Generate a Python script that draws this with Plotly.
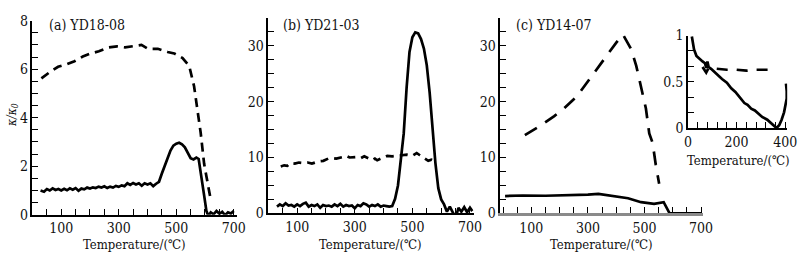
import plotly.graph_objects as go

W, H = 809, 266
FONT = "DejaVu Serif Condensed, DejaVu Serif"

# ---------------- data ----------------
# (a) YD18-08
a_solid_t = [28, 40, 50, 60, 70, 80, 90, 100, 110, 120, 130, 140, 150, 160, 170, 180, 190, 200,
             210, 220, 230, 240, 250, 260, 270, 280, 290, 300, 310, 320, 330, 340, 350, 360, 370,
             380, 390, 400, 410, 420, 430, 440, 450, 460, 470, 480, 490, 500, 510, 520, 530, 540,
             550, 560, 570, 578, 585, 597, 605, 612, 620, 630, 640, 650, 660, 670, 680, 690, 700]
a_solid_k = [1.0, 0.95, 1.06, 1.0, 1.09, 1.02, 1.06, 1.0, 1.07, 1.01, 1.09, 1.03, 1.1, 0.99, 1.08,
             1.05, 1.12, 1.08, 1.13, 1.1, 1.16, 1.12, 1.17, 1.1, 1.16, 1.12, 1.19, 1.15, 1.21, 1.18,
             1.3, 1.23, 1.31, 1.25, 1.3, 1.2, 1.3, 1.25, 1.3, 1.18, 1.28, 1.36, 1.7, 2.0, 2.35, 2.65,
             2.85, 2.93, 2.97, 2.9, 2.78, 2.55, 2.33, 2.28, 2.36, 2.3, 1.8, 0.8, 0.15, -0.05, 0.1,
             0.02, 0.16, 0.04, 0.12, -0.02, 0.1, 0.05, 0.16]
a_dash_t = [31, 60, 89, 118, 146, 175, 203, 231, 265, 294, 322, 351, 379, 402, 436, 470, 493, 522,
            545, 562, 574, 585, 597, 608, 619]
a_dash_k = [5.62, 5.88, 6.1, 6.2, 6.33, 6.52, 6.65, 6.74, 6.9, 6.94, 6.9, 6.94, 7.0, 6.84, 6.84,
            6.71, 6.65, 6.46, 6.14, 5.3, 4.4, 3.38, 2.1, 1.32, 0.68]

# (b) YD21-03
b_solid_t = [30, 40, 50, 60, 70, 80, 90, 100, 110, 120, 130, 140, 150, 160, 170, 180, 190, 200,
             210, 220, 230, 240, 250, 260, 270, 280, 290, 300, 310, 320, 330, 340, 350, 360, 370,
             380, 390, 400, 410, 420, 430, 440, 450, 460, 470, 480, 490, 500, 510, 520, 530, 540,
             550, 560, 570, 580, 590, 600, 610, 620, 630, 640, 650, 660, 670, 680, 690, 700, 708]
b_solid_k = [1.2, 1.6, 1.3, 1.8, 1.4, 1.5, 1.2, 1.6, 1.3, 1.7, 1.9, 1.2, 1.5, 1.3, 1.6, 1.0, 1.5,
             1.3, 1.4, 1.2, 1.6, 1.3, 1.7, 1.2, 1.5, 1.3, 1.4, 0.9, 1.5, 1.3, 1.8, 1.6, 1.2, 1.5,
             1.3, 1.6, 1.2, 1.4, 1.3, 1.2, 1.3, 2.6, 5.0, 9.5, 14.3, 22.5, 28.9, 31.5, 32.4, 32.2,
             31.2, 29.5, 26.5, 21.6, 15.0, 9.0, 4.5, 2.5, 1.6, 0.3, 1.2, 0.2, -0.8, 1.0, 0.3, 1.1,
             0.2, 1.0, 0.4]
b_dash_t = [43, 55, 66, 77, 92, 106, 122, 137, 151, 174, 191, 208, 222, 236, 259, 270, 282, 310,
            322, 333, 361, 370, 378, 413, 430, 447, 481, 500, 515, 526, 555, 566, 577]
b_dash_k = [8.4, 8.6, 8.5, 9.0, 8.9, 9.1, 9.0, 9.1, 8.9, 9.3, 9.4, 9.8, 9.9, 9.8, 10.1, 10.3, 10.0,
            10.1, 9.9, 10.2, 9.5, 9.8, 9.5, 10.3, 10.2, 10.3, 10.5, 10.3, 10.8, 10.4, 9.4, 9.6, 9.3]

# (c) YD14-07
c_solid_t = [7, 70, 150, 243, 300, 337, 394, 442, 488, 534, 568, 579, 589, 620, 660, 700]
c_solid_k = [3.1, 3.2, 3.15, 3.2, 3.35, 3.47, 3.1, 2.7, 2.0, 1.7, 2.0, 1.0, 0.0, 0.0, 0.05, 0.0]
c_dash_t = [77, 123, 181, 216, 262, 291, 331, 366, 401, 424, 453, 471, 488, 505, 517, 529, 540, 552]
c_dash_k = [14.0, 15.4, 17.4, 18.8, 21.0, 23.0, 25.8, 28.3, 30.6, 32.0, 29.4, 26.4, 22.7, 18.8,
            14.3, 12.6, 8.7, 5.3]

# (c) inset
i_solid_t = [16, 20, 25, 35, 50, 60, 70, 75, 80, 85, 95, 110, 125, 140, 160, 178, 195, 215, 232,
             245, 260, 275, 290, 305, 326, 345, 355, 364, 375, 385, 395, 402, 406, 406, 403]
i_solid_k = [0.99, 0.92, 0.85, 0.78, 0.74, 0.72, 0.70, 0.65, 0.72, 0.66, 0.64, 0.60, 0.57, 0.53,
             0.49, 0.43, 0.39, 0.33, 0.27, 0.25, 0.21, 0.19, 0.15, 0.12, 0.09, 0.05, 0.02, 0.0,
             0.03, 0.09, 0.17, 0.25, 0.32, 0.40, 0.48]
i_dash_t = [60, 75, 85, 120, 160, 200, 240, 280, 320, 355, 360]
i_dash_k = [0.66, 0.60, 0.65, 0.64, 0.63, 0.63, 0.62, 0.63, 0.63, 0.63, 0.61]

panel_titles = ["(a) YD18-08", "(b) YD21-03", "(c) YD14-07"]
x_title = "Temperature/(℃)"
y_title = "κ/κ<sub>0</sub>"

# ---------------- layout helpers ----------------
def px_x(p):
    return p / W

def px_y(p):
    return 1 - p / H

fig = go.Figure()

def line(x, y, xa, ya, dash=None, width=2.7):
    fig.add_trace(go.Scatter(x=x, y=y, mode="lines", xaxis=xa, yaxis=ya,
                             line=dict(color="black", width=width, dash=dash),
                             showlegend=False, hoverinfo="skip"))

line(a_solid_t, a_solid_k, "x", "y")
line(a_dash_t, a_dash_k, "x", "y", dash="9px,6px")
line(b_solid_t, b_solid_k, "x2", "y2")
line(b_dash_t, b_dash_k, "x2", "y2", dash="8px,6px")
line(c_solid_t, c_solid_k, "x3", "y3")
line(c_dash_t, c_dash_k, "x3", "y3", dash="14px,10px")
line(i_solid_t, i_solid_k, "x4", "y4")
line(i_dash_t, i_dash_k, "x4", "y4", dash="11px,9px")

tickfont = dict(family=FONT, size=14, color="#111")
common = dict(showgrid=False, zeroline=False, showline=True, linecolor="black", linewidth=1.5,
              ticks="inside", ticklen=6, tickwidth=1.3, tickcolor="black", tickfont=tickfont,
              mirror=False)

def xax(dom, rng, tick0, dtick, minor, **kw):
    d = dict(common)
    d.update(domain=[px_x(dom[0]), px_x(dom[1])], range=rng, tickmode="linear", tick0=tick0,
             dtick=dtick, minor=dict(dtick=minor, tick0=0, ticks="inside", ticklen=6,
                                     tickwidth=1.3, tickcolor="black"))
    d.update(kw)
    return d

def yax(dom, rng, dtick, minor, **kw):
    d = dict(common)
    d.update(domain=[px_y(dom[0]), px_y(dom[1])], range=rng, tickmode="linear", tick0=0,
             dtick=dtick, minor=dict(dtick=minor, tick0=0, ticks="inside", ticklen=6,
                                     tickwidth=1.3, tickcolor="black"))
    d.update(kw)
    return d

fig.update_layout(
    width=W, height=H, margin=dict(l=0, r=0, t=0, b=0),
    paper_bgcolor="white", plot_bgcolor="rgba(0,0,0,0)",
    font=dict(family=FONT, color="#111"),
    xaxis=xax((29, 237), [0, 711], 100, 200, 50, anchor="y"),
    yaxis=yax((220, 13.5), [0, 8], 2, 0.5, anchor="x"),
    xaxis2=xax((269, 478), [0, 713], 100, 200, 50, anchor="y2"),
    yaxis2=yax((218.5, 11), [0, 34.9], 10, 2.5, anchor="x2"),
    xaxis3=xax((505, 711), [-10, 706], 100, 200, 50, anchor="y3", linecolor="#8a8a8a",
               linewidth=3),
    yaxis3=yax((218.5, 11), [0, 34.9], 10, 2.5, anchor="x3"),
    xaxis4=xax((696, 797), [0, 408], 0, 200, 40, anchor="y4"),
    yaxis4=yax((127.7, 29.3), [0, 1], 0.5, 0.5 / 3, anchor="x4"),
)

ann = []
for txt, x in zip(panel_titles, [44, 282, 519]):
    ann.append(dict(text=txt, x=px_x(x), y=px_y(18), xref="paper", yref="paper",
                    xanchor="left", yanchor="middle", showarrow=False,
                    font=dict(family=FONT, size=14, color="#111")))
for cx in [133, 373, 608]:
    ann.append(dict(text=x_title, x=px_x(cx), y=px_y(252), xref="paper", yref="paper",
                    xanchor="center", yanchor="middle", showarrow=False,
                    font=dict(family=FONT, size=13, color="#111")))
ann.append(dict(text=x_title, x=px_x(747), y=px_y(162), xref="paper", yref="paper",
                xanchor="center", yanchor="middle", showarrow=False,
                font=dict(family=FONT, size=13, color="#111")))
ann.append(dict(text="<i>" + y_title + "</i>", x=px_x(9), y=px_y(114), xref="paper",
                yref="paper", xanchor="center", yanchor="middle", showarrow=False,
                textangle=-90, font=dict(family=FONT, size=12, color="#111")))
fig.update_layout(annotations=ann)

fig.write_html("out.html", config={"displayModeBar": False},
               post_script="document.body.style.margin='0';"
                           "document.body.style.overflow='hidden';")
